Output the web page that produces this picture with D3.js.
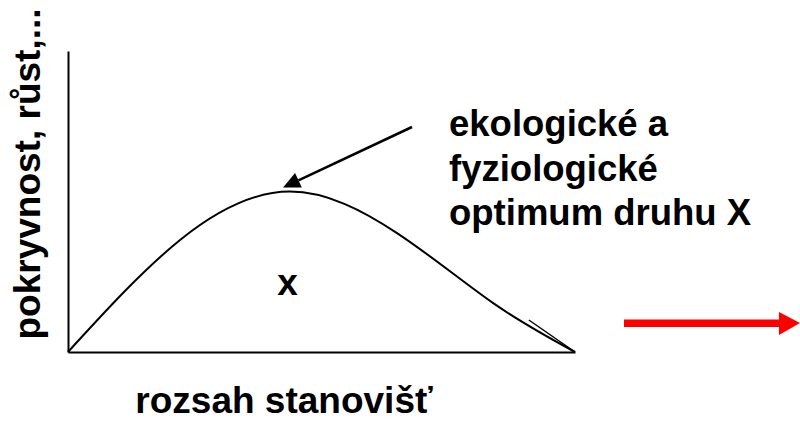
<!DOCTYPE html>
<html>
<head>
<meta charset="utf-8">
<script src="https://cdn.jsdelivr.net/npm/d3@7"></script>
<style>
    html, body { margin: 0; padding: 0; background: #fff; }
    svg { display: block; }
    text { font-family: "Liberation Sans", Arial, sans-serif; font-weight: bold; fill: #000; }
</style>
</head>
<body>
<svg id="chart" width="800" height="428"></svg>
<script>
(function (d3) {
    'use strict';

    // response curve of species X along the habitat gradient
    var gradient = [0, 22.1, 43.8, 64.9, 83.8, 100];
    var response = [0, 37.2, 53.3, 39.5, 16.3, 0];

    var optimum     = { x: 43.8, y: 53.3 };
    var labelLines  = ['ekologické a', 'fyziologické', 'optimum druhu X'];
    var xTitle      = 'rozsah stanovišť';
    var yTitle      = 'pokryvnost, růst,...';
    var curveLabel  = 'x';

    var svg    = d3.select('#chart'),
        origin = { x: 68, y: 352 },
        x      = d3.scaleLinear().domain([0, 100]).range([origin.x, 575]),
        y      = d3.scaleLinear().domain([0, 100]).range([origin.y, 51]),
        points = gradient.map(function (g, i) { return [g, response[i]]; }),
        line   = d3.line()
            .x(function (d) { return x(d[0]); })
            .y(function (d) { return y(d[1]); })
            .curve(d3.curveNatural);

    // axes: bare lines, no ticks
    svg.append('g')
        .attr('transform', 'translate(0,' + origin.y + ')')
        .call(d3.axisBottom(x).tickValues([]).tickSizeOuter(0))
        .select('.domain').attr('stroke', '#000').attr('stroke-width', 2);

    svg.append('g')
        .attr('transform', 'translate(' + origin.x + ',0)')
        .call(d3.axisLeft(y).tickValues([]).tickSizeOuter(0))
        .select('.domain').attr('stroke', '#000').attr('stroke-width', 2);

    svg.append('path')
        .datum(points)
        .attr('d', line)
        .attr('fill', 'none')
        .attr('stroke', '#000')
        .attr('stroke-width', 2);

    // the little doubled stroke near the right end of the curve
    svg.append('line')
        .attr('x1', x(90.9)).attr('y1', y(10.3) - 1)
        .attr('x2', x(100)).attr('y2', y(0))
        .attr('stroke', '#000')
        .attr('stroke-width', 1.5);

    // arrow pointing at the optimum
    var tip  = [x(optimum.x) - 7, y(optimum.y) - 4],
        tail = [412, 127],
        ang  = Math.atan2(tail[1] - tip[1], tail[0] - tip[0]),
        hl   = 17, hw = 8,
        base = [tip[0] + hl * Math.cos(ang), tip[1] + hl * Math.sin(ang)];

    svg.append('line')
        .attr('x1', tail[0]).attr('y1', tail[1])
        .attr('x2', base[0]).attr('y2', base[1])
        .attr('stroke', '#000')
        .attr('stroke-width', 2.5);

    svg.append('polygon')
        .attr('points', [
            tip,
            [base[0] - hw * Math.sin(ang), base[1] + hw * Math.cos(ang)],
            [base[0] + hw * Math.sin(ang), base[1] - hw * Math.cos(ang)]
        ].map(String).join(' '))
        .attr('fill', '#000');

    svg.append('g')
        .selectAll('text')
        .data(labelLines)
        .enter().append('text')
            .attr('x', 449)
            .attr('y', function (d, i) { return 136 + i * 44.5; })
            .style('font-size', '36.5px')
            .text(String);

    svg.append('text')
        .attr('x', x(43.3))
        .attr('y', 295)
        .attr('text-anchor', 'middle')
        .style('font-size', '37px')
        .text(curveLabel);

    svg.append('text')
        .attr('x', 284)
        .attr('y', 413)
        .attr('text-anchor', 'middle')
        .style('font-size', '37px')
        .text(xTitle);

    svg.append('text')
        .attr('transform', 'translate(40,174) rotate(-90)')
        .attr('text-anchor', 'middle')
        .style('font-size', '37px')
        .text(yTitle);

    // red arrow on the right
    svg.append('rect')
        .attr('x', 624).attr('y', 319.5)
        .attr('width', 158).attr('height', 7.5)
        .attr('fill', '#ff0000');

    svg.append('polygon')
        .attr('points', '779,312 800,323 779,335')
        .attr('fill', '#ff0000');
}(window.d3));
</script>
</body>
</html>
